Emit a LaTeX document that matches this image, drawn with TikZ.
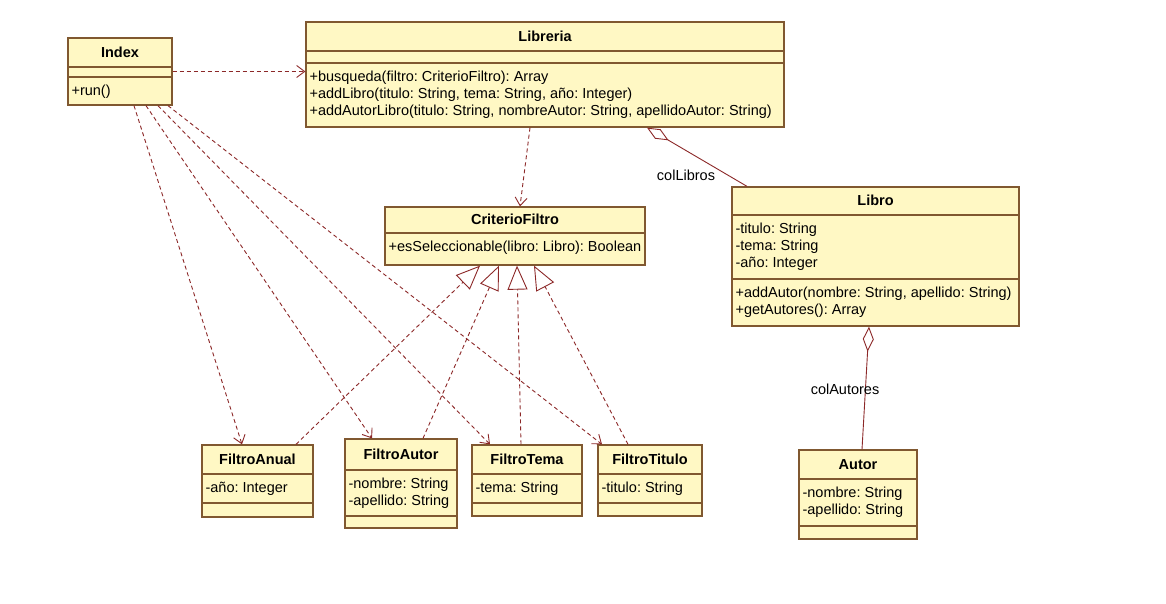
\documentclass[tikz,border=0pt]{standalone}
\usepackage{fontspec}
\setmainfont{Liberation Sans}
\usepackage{xcolor}
\usepackage{tikz}
\usetikzlibrary{arrows.meta, positioning, calc, fit}
\frenchspacing

\definecolor{classfill}{RGB}{255,248,196}
\definecolor{classdraw}{RGB}{128,88,48}
\definecolor{linkred}{RGB}{140,40,40}

% class box: name, top left, bottom right, first line, second line, title, attributes, operations
\newcommand{\umlclass}[8]{%
  \node[classbox, fit={(#2) (#3)}] (#1) {};
  \draw[classline] (#1.west |- 0,#4) -- (#1.east |- 0,#4);
  \draw[classline] (#1.west |- 0,#5) -- (#1.east |- 0,#5);
  \node[classtitle] (#1-title) at ($(#1.north)!0.5!(#1.north |- 0,#4)$) {#6};
  \node[classtext] (#1-attrs) at (#1.west |- 0,#4) {#7};
  \node[classtext] (#1-ops) at (#1.west |- 0,#5) {#8};
}

\begin{document}
\begin{tikzpicture}[
   x=1pt, y=-1pt,
   classbox/.style = {draw=classdraw, fill=classfill, line width=1.3pt, inner sep=0pt, rectangle},
   classline/.style = {draw=classdraw, line width=1.3pt},
   classtitle/.style = {font=\fontsize{14.5}{17}\selectfont\bfseries},
   classtext/.style = {anchor=north west, align=left, inner xsep=4pt, inner ysep=7.5pt, font=\fontsize{14.5}{17}\selectfont},
   depend/.style = {draw=linkred, line width=0.9pt, dash pattern=on 4pt off 3pt, -{Straight Barb[length=8pt, width=12pt]}},
   realize/.style = {draw=linkred, line width=0.9pt, dash pattern=on 4pt off 3pt, -{Triangle[open, length=24pt, width=20pt]}},
   aggreg/.style = {draw=linkred, line width=0.9pt, {Diamond[open, length=25pt, width=11pt]}-},
   rolelabel/.style = {font=\fontsize{14.5}{17}\selectfont, inner sep=1pt}
   ]
  \useasboundingbox[fill=white] (0,0) rectangle (1166,603);

  % Classes
  \umlclass{index}{68,38}{172,105}{67}{77}{Index}{}{+run()}
  \umlclass{libreria}{306,22}{784,127}{51}{63}{Libreria}{}
   {+busqueda(filtro: CriterioFiltro): Array\\
   +addLibro(titulo: String, tema: String, año: Integer)\\
   +addAutorLibro(titulo: String, nombreAutor: String, apellidoAutor: String)}
  \umlclass{criterio}{385,207}{645,265}{233}{233}{CriterioFiltro}{}
   {+esSeleccionable(libro: Libro): Boolean}
  \umlclass{libro}{732,187}{1019,326}{215}{279}{Libro}
   {-titulo: String\\
   -tema: String\\
   -año: Integer}
   {+addAutor(nombre: String, apellido: String)\\
   +getAutores(): Array}
  \umlclass{filtroanual}{202,445}{313,517}{474}{503}{FiltroAnual}{-año: Integer}{}
  \umlclass{filtroautor}{345,439}{457,528}{470}{516}{FiltroAutor}
   {-nombre: String\\
   -apellido: String}{}
  \umlclass{filtrotema}{472,445}{582,516}{474}{503}{FiltroTema}{-tema: String}{}
  \umlclass{filtrotitulo}{598,445}{702,516}{474}{503}{FiltroTitulo}{-titulo: String}{}
  \umlclass{autor}{799,450}{917,539}{479}{526}{Autor}
   {-nombre: String\\
   -apellido: String}{}

  % Dependencies
  \draw[depend] (index.east) -- (index.east -| libreria.west);
  \draw[depend] (libreria.south -| 530,0) -- (criterio.north -| 520,0);
  \draw[depend] (index.south -| 134,0) -- (filtroanual.north -| 242,0);
  \draw[depend] (index.south -| 146,0) -- (filtroautor.north -| 372,0);
  \draw[depend] (index.south -| 158,0) -- (filtrotema.north -| 490,0);
  \draw[depend] (index.south -| 168,0) -- (filtrotitulo.north -| 602,0);

  % Realizations
  \draw[realize] (filtroanual.north -| 296,0) -- (criterio.south -| 480,0);
  \draw[realize] (filtroautor.north -| 423,0) -- (criterio.south -| 499,0);
  \draw[realize] (filtrotema.north -| 521,0) -- (criterio.south -| 517,0);
  \draw[realize] (filtrotitulo.north -| 628,0) -- (criterio.south -| 534,0);

  % Aggregations
  \draw[aggreg] (libreria.south -| 647,0) -- (libro.north -| 747,0);
  \draw[aggreg] (libro.south -| 869,0) -- (autor.north -| 862,0);
  \node[rolelabel] (collibros) at (686,175) {colLibros};
  \node[rolelabel] (colautores) at (845,389) {colAutores};
\end{tikzpicture}
\end{document}
